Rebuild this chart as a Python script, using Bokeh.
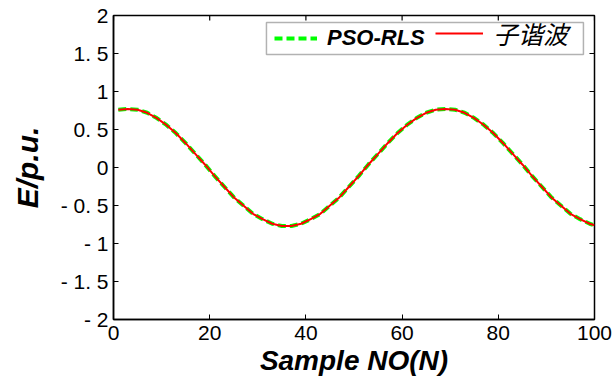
from bokeh.plotting import figure
from bokeh.models import (FixedTicker, Legend, LegendItem,
                          BoxAnnotation, Range1d)
from bokeh.embed import file_html
from bokeh.resources import INLINE

# ---- data ----
sample_no = [1, 3, 5, 7, 9, 11, 13, 15, 17, 19, 21, 23, 25, 27, 29, 31, 33, 35,
             37, 39, 41, 43, 45, 47, 49, 51, 53, 55, 57, 59, 61, 63, 65, 67, 69,
             71, 73, 75, 77, 79, 81, 83, 85, 87, 89, 91, 93, 95, 97, 99, 100]
pso_rls = [0.76, 0.77, 0.76, 0.72, 0.65, 0.56, 0.45, 0.32, 0.18, 0.04, -0.11,
           -0.25, -0.39, -0.50, -0.61, -0.68, -0.74, -0.77, -0.77, -0.74, -0.68,
           -0.61, -0.50, -0.39, -0.25, -0.11, 0.04, 0.18, 0.32, 0.45, 0.56, 0.65,
           0.72, 0.76, 0.77, 0.76, 0.72, 0.65, 0.56, 0.45, 0.32, 0.18, 0.04,
           -0.11, -0.25, -0.39, -0.50, -0.61, -0.68, -0.74, -0.76]
sub_harmonic = [0.76, 0.77, 0.76, 0.72, 0.65, 0.56, 0.45, 0.32, 0.18, 0.04, -0.11,
                -0.25, -0.39, -0.50, -0.61, -0.68, -0.74, -0.77, -0.77, -0.74, -0.68,
                -0.61, -0.50, -0.39, -0.25, -0.11, 0.04, 0.18, 0.32, 0.45, 0.56, 0.65,
                0.72, 0.76, 0.77, 0.76, 0.72, 0.65, 0.56, 0.45, 0.32, 0.18, 0.04,
                -0.11, -0.25, -0.39, -0.50, -0.61, -0.68, -0.74, -0.76]
x_ticks = [0, 20, 40, 60, 80, 100]
y_ticks = [-2, -1.5, -1, -0.5, 0, 0.5, 1, 1.5, 2]
y_tick_labels = ["- 2", "- 1. 5", "- 1", "- 0. 5", "0", "0. 5", "1", "1. 5", "2"]
series_names = ["PSO-RLS", "子谐波"]

FONT = "Liberation Sans"
X_MIN, X_MAX, Y_MIN, Y_MAX = 0, 100, -2, 2

p = figure(width=615, height=378, output_backend="svg", toolbar_location=None,
           x_range=Range1d(X_MIN, X_MAX), y_range=Range1d(Y_MIN, Y_MAX),
           min_border_left=113, min_border_right=21,
           min_border_top=15, min_border_bottom=57,
           x_axis_label="Sample NO(N)", y_axis_label="E/p.u.")
p.grid.visible = False
p.outline_line_color = "black"
p.outline_line_width = 1.5
p.background_fill_color = "white"
p.border_fill_color = "white"

p.xaxis.ticker = FixedTicker(ticks=x_ticks)
p.yaxis.ticker = FixedTicker(ticks=y_ticks)
p.yaxis.major_label_overrides = {t: l for t, l in zip(y_ticks, y_tick_labels)}

for ax in (p.xaxis[0], p.yaxis[0]):
    ax.major_tick_in = 5
    ax.major_tick_out = 0
    ax.minor_tick_line_color = None
    ax.axis_line_width = 1.5
    ax.axis_line_color = "black"
    ax.major_tick_line_color = "black"
    ax.major_label_text_font = FONT
    ax.major_label_text_font_size = "21px"
    ax.major_label_text_color = "black"
    ax.axis_label_text_font = FONT
    ax.axis_label_text_font_style = "bold italic"
    ax.axis_label_text_color = "black"

p.xaxis.major_label_standoff = 6
p.xaxis.axis_label_standoff = 2
p.xaxis.axis_label_text_font_size = "28px"
p.yaxis.major_label_standoff = 5
p.yaxis.axis_label_standoff = 14
p.yaxis.axis_label_text_font_size = "30px"

# mirrored inward ticks on the top and right edges (half of each dash is clipped)
p.scatter(x_ticks, [Y_MAX] * len(x_ticks), marker="dash", angle=1.5708,
          size=10, line_color="black", line_width=1.2)
p.scatter([X_MAX] * len(y_ticks), y_ticks, marker="dash",
          size=10, line_color="black", line_width=1.2)

g = p.line(sample_no, pso_rls, line_color="#00ff00", line_width=4, line_dash="8 4")
r = p.line(sample_no, sub_harmonic, line_color="#ff0000", line_width=2)

# legend frame
box = BoxAnnotation(left=31.8, right=97.7, bottom=1.487, top=1.908,
                    fill_color="white", fill_alpha=1.0,
                    line_color="black", line_width=1.5)
p.add_layout(box)

leg_a = Legend(items=[LegendItem(label=series_names[0], renderers=[g])],
               location=(161, 268), orientation="horizontal",
               glyph_width=43, glyph_height=20, label_standoff=10,
               padding=6, margin=0, border_line_color=None,
               background_fill_alpha=0,
               label_text_font=FONT, label_text_font_style="bold italic",
               label_text_font_size="22px", label_text_color="black")
leg_b = Legend(items=[LegendItem(label=series_names[1], renderers=[r])],
               location=(322, 268), orientation="horizontal",
               glyph_width=48, glyph_height=20, label_standoff=10,
               padding=6, margin=0, border_line_color=None,
               background_fill_alpha=0,
               label_text_font="Noto Sans CJK SC", label_text_font_style="italic",
               label_text_font_size="25px", label_text_color="black")
p.add_layout(leg_a)
p.add_layout(leg_b)

open("out.html", "w").write(file_html(p, INLINE))
